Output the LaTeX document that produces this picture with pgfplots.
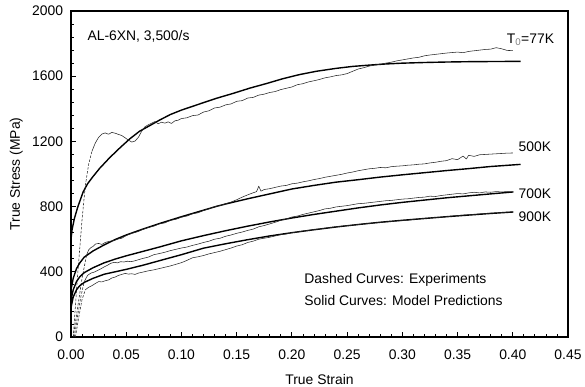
\documentclass[border=0pt]{standalone}
\usepackage{fontspec}
\setmainfont{Liberation Sans}
\usepackage{pgfplots}
\pgfplotsset{compat=1.18}
\newcommand{\ff}{\fontsize{13.9bp}{16bp}\selectfont}
\begin{document}
\ff
\begin{tikzpicture}
\begin{axis}[
  at={(0,0)}, anchor=south west,
  scale only axis, width=497bp, height=326bp,
  xmin=0, xmax=0.45, ymin=0, ymax=2000,
  xtick={0,0.05,0.1,0.15,0.2,0.25,0.3,0.35,0.4,0.45},
  ytick={0,400,800,1200,1600,2000},
  minor x tick num=4, minor y tick num=4,
  tick align=inside, xtick pos=bottom, ytick pos=left,
  major tick length=4.5bp, minor tick length=3bp,
  every tick/.style={black, line width=0.8bp},
  axis line style={line width=1.1bp},
  /pgf/number format/assume math mode=true,
  x tick label style={font=\ff, yshift=-7.5bp, /pgf/number format/.cd, fixed, fixed zerofill, precision=2},
  y tick label style={font=\ff, xshift=-3bp, /pgf/number format/.cd, 1000 sep={}},
  xlabel={True Strain}, ylabel={True Stress (MPa)},
  label style={font=\ff},
  xlabel style={yshift=-5.5bp},
  every axis plot/.append style={line join=round},
  clip=false,
]
% ---------- 77K model
\addplot[black, line width=1.4bp] coordinates {
(0,600)(0.001,660)(0.003,725)(0.006,795)(0.011,890)(0.015,940)(0.02,985)(0.026,1035)(0.035,1100)(0.045,1165)(0.0535,1217)(0.062,1262)(0.0716,1298)(0.08,1330)(0.09,1365)(0.10,1392)(0.117,1431)(0.132,1465)(0.147,1495)(0.162,1527)(0.177,1555)(0.192,1585)(0.207,1610)(0.222,1630)(0.24,1648)(0.255,1660)(0.27,1668)(0.285,1675)(0.30,1680)(0.32,1684)(0.34,1687)(0.36,1689)(0.38,1690)(0.407,1691)};
% ---------- 77K experiment
\addplot[black!85, line width=0.55bp, dash pattern=on 2.5bp off 1.5bp] coordinates {
(0.002,0)(0.006,380)(0.010,720)(0.013,930)(0.016,1060)(0.019,1140)};
\addplot[black!85, line width=0.55bp] coordinates {
(0.019,1140)(0.022,1190)(0.025,1225)(0.028,1245)(0.031,1252)(0.034,1244)(0.037,1255)(0.040,1250)(0.043,1243)(0.046,1236)(0.049,1222)(0.052,1208)(0.055,1196)(0.058,1202)(0.061,1225)(0.064,1262)(0.067,1290)(0.070,1302)(0.073,1312)(0.076,1322)(0.079,1308)(0.082,1318)(0.085,1312)(0.088,1320)(0.091,1310)(0.094,1326)(0.097,1330)(0.100,1340)(0.105,1345)(0.110,1358)(0.115,1362)(0.120,1380)(0.125,1388)(0.130,1405)(0.135,1410)(0.140,1424)(0.145,1430)(0.150,1446)(0.155,1450)(0.160,1466)(0.165,1470)(0.170,1484)(0.175,1490)(0.180,1500)(0.185,1506)(0.190,1518)(0.195,1526)(0.200,1534)(0.205,1548)(0.210,1554)(0.215,1565)(0.220,1572)(0.225,1580)(0.230,1590)(0.235,1596)(0.240,1604)(0.245,1608)(0.250,1616)(0.255,1630)(0.260,1644)(0.265,1652)(0.270,1662)(0.275,1668)(0.280,1674)(0.285,1680)(0.290,1686)(0.295,1694)(0.300,1700)(0.305,1706)(0.310,1712)(0.315,1716)(0.320,1725)(0.325,1730)(0.330,1734)(0.335,1738)(0.340,1742)(0.345,1745)(0.350,1748)(0.355,1744)(0.360,1752)(0.365,1756)(0.370,1760)(0.375,1764)(0.380,1766)(0.385,1775)(0.390,1768)(0.395,1758)(0.400,1757)};
% ---------- 500K model
\addplot[black, line width=1.4bp] coordinates {
(0,290)(0.002,360)(0.005,420)(0.008,455)(0.012,490)(0.02,528)(0.03,565)(0.04,598)(0.05,626)(0.065,662)(0.08,696)(0.10,738)(0.12,778)(0.132,802)(0.14,816)(0.16,848)(0.18,878)(0.20,908)(0.22,930)(0.24,950)(0.26,965)(0.28,981)(0.30,995)(0.32,1008)(0.34,1021)(0.36,1033)(0.38,1046)(0.407,1059)};
% ---------- 500K experiment
\addplot[black!85, line width=0.55bp, dash pattern=on 2.5bp off 1.5bp] coordinates {
(0.002,0)(0.006,180)(0.010,360)(0.014,500)};
\addplot[black!85, line width=0.55bp] coordinates {
(0.014,500)(0.016,535)(0.018,548)(0.020,556)(0.022,570)(0.025,574)(0.028,568)(0.031,580)(0.034,586)(0.037,590)(0.040,594)(0.043,602)(0.046,606)(0.050,622)(0.055,636)(0.060,645)(0.065,660)(0.070,672)(0.075,680)(0.080,694)(0.085,700)(0.090,716)(0.095,722)(0.100,735)(0.105,742)(0.110,756)(0.115,762)(0.120,776)(0.125,786)(0.130,800)(0.135,806)(0.140,818)(0.145,828)(0.150,842)(0.155,858)(0.160,872)(0.165,885)(0.168,892)(0.170,925)(0.172,895)(0.175,905)(0.180,910)(0.185,918)(0.190,926)(0.195,930)(0.200,940)(0.205,944)(0.210,952)(0.215,958)(0.220,966)(0.225,972)(0.230,980)(0.235,986)(0.240,992)(0.245,998)(0.250,1006)(0.255,1012)(0.260,1020)(0.265,1026)(0.270,1032)(0.275,1035)(0.280,1040)(0.285,1038)(0.290,1045)(0.295,1048)(0.300,1050)(0.305,1054)(0.310,1056)(0.315,1060)(0.320,1062)(0.325,1068)(0.330,1072)(0.335,1078)(0.340,1082)(0.345,1094)(0.350,1088)(0.355,1110)(0.358,1092)(0.360,1115)(0.365,1108)(0.370,1118)(0.375,1120)(0.380,1122)(0.385,1124)(0.390,1126)(0.395,1128)(0.400,1129)};
% ---------- 700K model
\addplot[black, line width=1.4bp] coordinates {
(0,225)(0.002,290)(0.005,340)(0.008,370)(0.012,395)(0.02,425)(0.03,455)(0.04,478)(0.05,498)(0.065,525)(0.08,552)(0.10,590)(0.12,622)(0.14,652)(0.16,680)(0.18,706)(0.20,730)(0.22,752)(0.24,772)(0.26,792)(0.28,810)(0.30,826)(0.32,840)(0.34,854)(0.36,866)(0.38,878)(0.4006,890)};
% ---------- 700K experiment
\addplot[black!85, line width=0.55bp, dash pattern=on 2.5bp off 1.5bp] coordinates {
(0.003,0)(0.006,130)(0.009,250)(0.012,340)};
\addplot[black!85, line width=0.55bp] coordinates {
(0.012,340)(0.015,378)(0.018,392)(0.021,398)(0.024,408)(0.027,418)(0.030,430)(0.033,440)(0.036,452)(0.039,458)(0.042,455)(0.045,462)(0.048,460)(0.051,465)(0.054,462)(0.057,466)(0.060,472)(0.065,482)(0.070,490)(0.075,505)(0.080,512)(0.085,520)(0.090,530)(0.095,538)(0.100,546)(0.105,552)(0.110,562)(0.115,570)(0.120,580)(0.125,588)(0.130,600)(0.135,606)(0.140,618)(0.145,626)(0.150,636)(0.155,644)(0.160,654)(0.165,662)(0.170,676)(0.175,684)(0.180,694)(0.185,704)(0.190,716)(0.195,724)(0.200,736)(0.205,742)(0.210,752)(0.215,760)(0.220,768)(0.225,776)(0.230,786)(0.235,790)(0.240,798)(0.245,802)(0.250,806)(0.255,812)(0.260,818)(0.265,820)(0.270,824)(0.275,828)(0.280,832)(0.285,836)(0.290,838)(0.295,842)(0.300,846)(0.305,848)(0.310,852)(0.315,856)(0.320,858)(0.325,864)(0.330,862)(0.335,868)(0.340,872)(0.345,876)(0.350,880)(0.355,878)(0.360,884)(0.365,888)(0.370,884)(0.375,890)(0.380,888)(0.385,892)(0.390,890)(0.395,892)(0.400,890)};
% ---------- 900K model
\addplot[black, line width=1.4bp] coordinates {
(0,180)(0.002,245)(0.005,290)(0.008,315)(0.012,335)(0.02,360)(0.03,385)(0.04,400)(0.05,415)(0.065,440)(0.08,468)(0.10,505)(0.12,545)(0.14,572)(0.16,597)(0.18,620)(0.20,640)(0.22,658)(0.24,675)(0.26,690)(0.28,704)(0.30,716)(0.32,727)(0.34,738)(0.36,748)(0.38,758)(0.4006,767)};
% ---------- 900K experiment
\addplot[black!85, line width=0.55bp, dash pattern=on 2.5bp off 1.5bp] coordinates {
(0.004,0)(0.007,120)(0.010,230)(0.013,290)};
\addplot[black!85, line width=0.55bp] coordinates {
(0.013,290)(0.016,305)(0.019,315)(0.022,328)(0.025,340)(0.028,338)(0.031,345)(0.034,350)(0.037,362)(0.040,368)(0.043,378)(0.046,384)(0.049,390)(0.052,386)(0.055,388)(0.058,384)(0.061,392)(0.065,398)(0.070,406)(0.075,412)(0.080,420)(0.085,428)(0.090,436)(0.095,446)(0.100,456)(0.105,470)(0.110,486)(0.115,492)(0.120,500)(0.125,510)(0.130,518)(0.135,526)(0.140,536)(0.145,546)(0.150,558)(0.155,566)(0.160,580)(0.165,588)(0.170,600)(0.175,606)(0.180,612)(0.185,620)(0.190,628)(0.195,632)(0.200,640)(0.205,644)(0.210,650)(0.215,654)(0.220,660)(0.225,662)(0.230,668)(0.235,672)(0.240,676)(0.245,680)(0.250,684)(0.255,686)(0.260,690)(0.265,694)(0.270,696)(0.275,700)(0.280,702)(0.285,706)(0.290,708)(0.295,712)(0.300,714)(0.305,716)(0.310,722)(0.315,724)(0.320,728)(0.325,730)(0.330,734)(0.335,734)(0.340,738)(0.345,742)(0.350,745)(0.355,748)(0.360,750)(0.365,752)(0.370,755)(0.375,757)(0.380,760)(0.385,761)(0.390,764)(0.395,766)(0.400,767)};
% ---------- annotations
\node[anchor=base west, inner sep=0, font=\ff] at (axis cs:0.0148,1819) {AL-6XN, 3,500/s};
\node[anchor=base west, inner sep=0, font=\ff] at (axis cs:0.3944,1800) {T\textsubscript{\textcolor{gray}{0}}=77K};
\node[anchor=base west, inner sep=0, font=\ff] at (axis cs:0.4052,1135) {500K};
\node[anchor=base west, inner sep=0, font=\ff] at (axis cs:0.4052,849) {700K};
\node[anchor=base west, inner sep=0, font=\ff] at (axis cs:0.4052,706) {900K};
\node[anchor=base west, inner sep=0, font=\ff] at (axis cs:0.2111,331) {Dashed Curves: Experiments};
\node[anchor=base west, inner sep=0, font=\ff] at (axis cs:0.2111,196) {Solid Curves: Model Predictions};
\end{axis}
\pgfresetboundingbox
\useasboundingbox (-71bp,-50bp) rectangle (514bp,337bp);
\end{tikzpicture}
\end{document}
